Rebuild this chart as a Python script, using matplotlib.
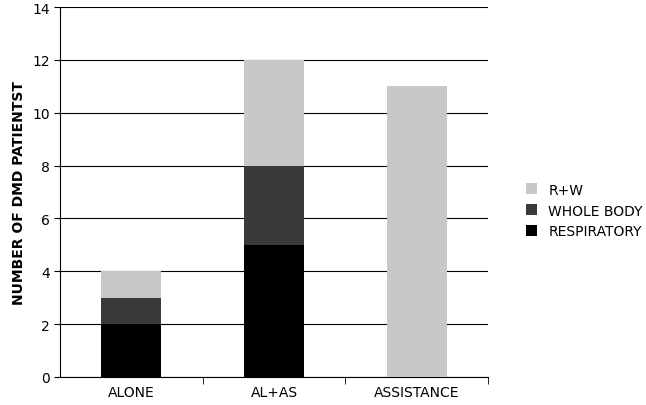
import matplotlib
matplotlib.use("Agg")
import matplotlib.pyplot as plt
import numpy as np

categories = ["ALONE", "AL+AS", "ASSISTANCE"]
respiratory = [2, 5, 0]
whole_body = [1, 3, 0]
r_w = [1, 4, 11]
yticks = [0, 2, 4, 6, 8, 10, 12, 14]

fig = plt.figure(figsize=(6.46, 4.06), dpi=100)
ax = fig.add_axes([60/646, 28/406, 428/646, 370/406])
x = np.arange(len(categories))
w = 0.42
b1 = ax.bar(x, respiratory, w, color="#000000", label="RESPIRATORY", zorder=3)
b2 = ax.bar(x, whole_body, w, bottom=respiratory, color="#3a3a3a", label="WHOLE BODY", zorder=3)
bot = np.array(respiratory) + np.array(whole_body)
b3 = ax.bar(x, r_w, w, bottom=bot, color="#c8c8c8", label="R+W", zorder=3)
ax.set_xlim(-0.5, 2.5)
ax.set_ylim(0, 14)
ax.set_yticks(yticks)
ax.set_xticks(x)
ax.set_xticklabels(categories, fontsize=10)
ax.tick_params(axis="y", labelsize=10, length=4)
ax.tick_params(axis="x", length=0, pad=6)
ax.set_xticks([0.5, 1.5, 2.5], minor=True)
ax.tick_params(axis="x", which="minor", length=5)
ax.grid(axis="y", color="black", linewidth=0.8, zorder=0)
for s in ["top", "right"]:
    ax.spines[s].set_visible(False)
ax.set_ylabel("NUMBER OF DMD PATIENTST", fontsize=10, fontweight="bold")
ax.legend(handles=[b3, b2, b1], loc="center left", bbox_to_anchor=(1.06, 0.45),
          frameon=False, fontsize=10, handlelength=0.8, handleheight=0.8)
fig.savefig("out.png", dpi=100)
